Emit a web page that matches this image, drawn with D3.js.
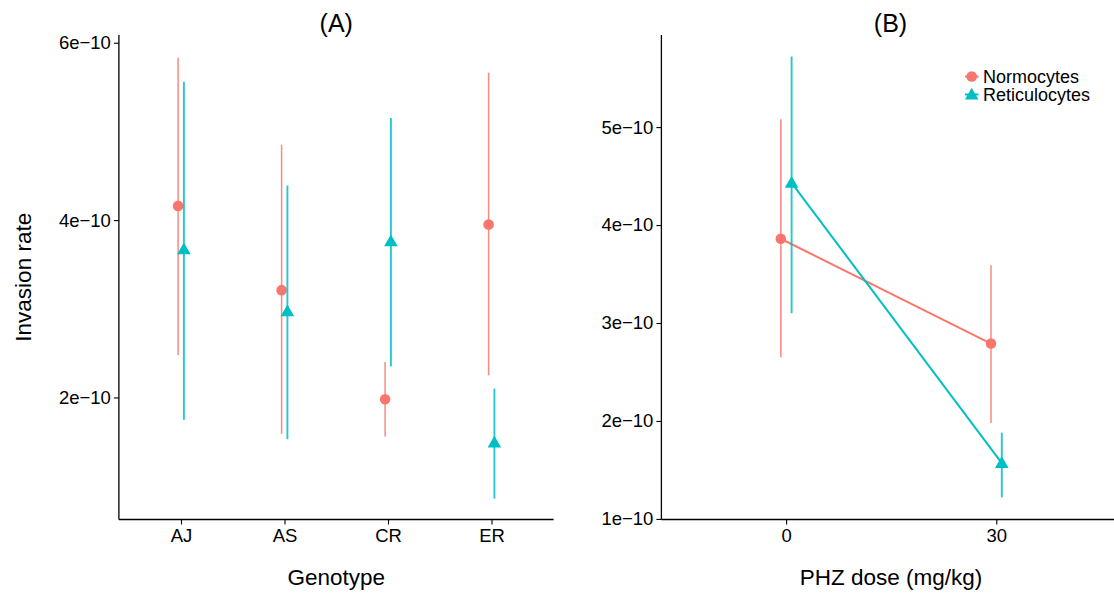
<!DOCTYPE html>
<html><head><meta charset="utf-8">
<script src="https://cdn.jsdelivr.net/npm/d3@7"></script>
<style>body{margin:0;background:#fff}svg{display:block}text{font-family:"Liberation Sans",Arial,sans-serif}</style>
</head><body><svg id="c" width="1114" height="596"></svg>
<script>
const genotypes = ["AJ","AS","CR","ER"];
const seriesNames = ["Normocytes","Reticulocytes"];
const colors = ["#F8766D","#00BFC4"];
// Panel A (units of 1e-10)
const normoA = [4.16, 3.21, 1.98, 3.95];
const normoA_lo = [2.48, 1.59, 1.56, 2.25];
const normoA_hi = [5.83, 4.85, 2.40, 5.66];
const reticA = [3.67, 2.97, 3.76, 1.49];
const reticA_lo = [1.75, 1.53, 2.35, 0.86];
const reticA_hi = [5.56, 4.39, 5.15, 2.10];
// Panel B
const doses = [0, 30];
const normoB = [3.86, 2.79];
const normoB_lo = [2.65, 1.98];
const normoB_hi = [5.08, 3.59];
const reticB = [4.43, 1.57];
const reticB_lo = [3.10, 1.22];
const reticB_hi = [5.72, 1.88];
const ticksA = [2e-10, 4e-10, 6e-10];
const ticksB = [1e-10, 2e-10, 3e-10, 4e-10, 5e-10];
const ticksBx = [0, 30];

(function(){
const svg = d3.select("#c");
const fmt = v => Math.round(v*1e10) + "e\u221210";
const pTop = 35, pBottom = 519.5;
const FF = "Liberation Sans, Arial, sans-serif";

function yAxis(g, y, ticks){
  const ax = d3.axisLeft(y).tickValues(ticks).tickFormat(fmt).tickSize(5).tickPadding(3).tickSizeOuter(0);
  g.call(ax);
  g.select(".domain").attr("stroke","#000").attr("stroke-width",1.3).attr("d",`M0,${pTop}V${pBottom}`);
  g.selectAll(".tick line").attr("stroke","#000").attr("stroke-width",1.1);
  g.selectAll(".tick text").style("font-size","18.5px").attr("fill","#000").style("font-family",FF);
}
function xAxis(g, ax){
  g.call(ax);
  g.select(".domain").attr("stroke","#000").attr("stroke-width",1.3);
  g.selectAll(".tick line").attr("stroke","#000").attr("stroke-width",1.1);
  g.selectAll(".tick text").style("font-size","18.5px").attr("fill","#000").style("font-family",FF).attr("dy","0.75em");
}
function marker(g, shape, x, y, col){
  if(shape===0) g.append("circle").attr("cx",x).attr("cy",y).attr("r",5.3).attr("fill",col);
  else g.append("path").attr("d", d3.symbol(d3.symbolTriangle, 80)()).attr("transform",`translate(${x},${y+1})`).attr("fill",col);
}

// ---------- Panel A ----------
const axL = 118.9, axR = 553.6;
const yA = d3.scaleLinear().domain([0.624e-10, 6.087e-10]).range([pBottom, pTop]);
const xAp = d3.scalePoint().domain(genotypes).range([axL, axR]).padding(0.6);
const gA = svg.append("g");
yAxis(gA.append("g").attr("transform",`translate(${axL},0)`), yA, ticksA);
const gAx = gA.append("g").attr("transform",`translate(0,${pBottom})`);
xAxis(gAx, d3.axisBottom(xAp).tickSize(5).tickPadding(4).tickSizeOuter(0));
gAx.select(".domain").attr("d",`M${axL},0H${axR}`);
const seriesA = [[normoA,normoA_lo,normoA_hi],[reticA,reticA_lo,reticA_hi]];
seriesA.forEach((s,si)=>{
  const off = si===0 ? -2.9 : 2.9;
  genotypes.forEach((gname,i)=>{
    const x = xAp(gname)+off;
    gA.append("line").attr("x1",x).attr("x2",x).attr("y1",yA(s[1][i]*1e-10)).attr("y2",yA(s[2][i]*1e-10))
      .attr("stroke",colors[si]).attr("stroke-width",si===0?1.5:1.9).attr("opacity",0.85);
  });
  genotypes.forEach((gname,i)=>{
    marker(gA, si, xAp(gname)+off, yA(s[0][i]*1e-10), colors[si]);
  });
});
svg.append("text").attr("x",(axL+axR)/2).attr("y",31.5).attr("text-anchor","middle").style("font-size","25px").text("(A)");
svg.append("text").attr("x",(axL+axR)/2).attr("y",585).attr("text-anchor","middle").style("font-size","22.5px").text("Genotype");
svg.append("text").attr("transform",`translate(31,${(pTop+pBottom)/2}) rotate(-90)`).attr("text-anchor","middle").style("font-size","22.5px").text("Invasion rate");

// ---------- Panel B ----------
const bL = 661.4, bR = 1114;
const yB = d3.scaleLinear().domain([0.994e-10, 5.94e-10]).range([pBottom, pTop]);
const xB = d3.scaleLinear().domain([-17.8, 46.8]).range([bL, bR]);
const gB = svg.append("g");
yAxis(gB.append("g").attr("transform",`translate(${bL},0)`), yB, ticksB);
const gBx = gB.append("g").attr("transform",`translate(0,${pBottom})`);
xAxis(gBx, d3.axisBottom(xB).tickValues(ticksBx).tickFormat(d3.format("d")).tickSize(5).tickPadding(4).tickSizeOuter(0));
gBx.select(".domain").attr("d",`M${bL},0H${bR}`);
const seriesB = [[normoB,normoB_lo,normoB_hi],[reticB,reticB_lo,reticB_hi]];
seriesB.forEach((s,si)=>{
  const off = si===0 ? -5.3 : 5.5;
  doses.forEach((d,i)=>{
    const x = xB(d)+off;
    gB.append("line").attr("x1",x).attr("x2",x).attr("y1",yB(s[1][i]*1e-10)).attr("y2",yB(s[2][i]*1e-10))
      .attr("stroke",colors[si]).attr("stroke-width",si===0?1.5:1.9).attr("opacity",0.85);
  });
  const line = d3.line().x((d,i)=>xB(d)+off).y((d,i)=>yB(s[0][i]*1e-10));
  gB.append("path").datum(doses).attr("d",line).attr("fill","none").attr("stroke",colors[si]).attr("stroke-width",2);
  doses.forEach((d,i)=>marker(gB, si, xB(d)+off, yB(s[0][i]*1e-10), colors[si]));
});
svg.append("text").attr("x",890.5).attr("y",31.5).attr("text-anchor","middle").style("font-size","25px").text("(B)");
svg.append("text").attr("x",891).attr("y",585).attr("text-anchor","middle").style("font-size","22.5px").text("PHZ dose (mg/kg)");

// Legend
const lg = svg.append("g");
seriesNames.forEach((n,i)=>{
  const y = 76.5 + i*18;
  lg.append("line").attr("x1",965).attr("x2",978.5).attr("y1",y).attr("y2",y).attr("stroke",colors[i]).attr("stroke-width",2);
  marker(lg, i, 971.7, y, colors[i]);
  lg.append("text").attr("x",983).attr("y",y+6.3).style("font-size","18px").text(n);
});
})();
</script></body></html>
